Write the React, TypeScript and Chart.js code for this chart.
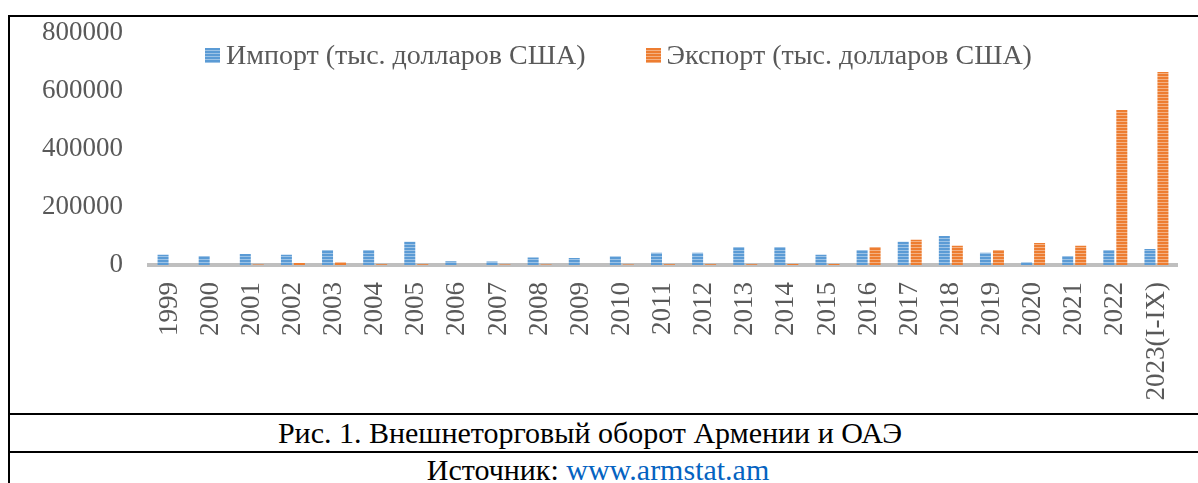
import React, { useEffect, useRef } from 'react';
import { Chart, registerables } from 'chart.js';

Chart.register(...registerables);

const categories = [
  '1999', '2000', '2001', '2002', '2003', '2004', '2005', '2006', '2007', '2008',
  '2009', '2010', '2011', '2012', '2013', '2014', '2015', '2016', '2017', '2018',
  '2019', '2020', '2021', '2022', '2023(I-IX)',
];
const importValues = [
  35000, 31000, 38000, 35000, 52000, 52000, 80000, 13000, 12000, 26000,
  24000, 30000, 42000, 42000, 62000, 62000, 35000, 52000, 80000, 100000,
  42000, 10000, 31000, 52000, 55000,
];
const exportValues = [
  0, 0, 1500, 7000, 10000, 3000, 3000, 0, 1500, 1500,
  0, 1500, 3000, 3000, 3000, 3500, 3500, 62000, 87000, 66000,
  52000, 76000, 66000, 533000, 664000,
];
const seriesLabels = ['Импорт (тыс. долларов США)', 'Экспорт (тыс. долларов США)'];
const yMin = 0;
const yMax = 800000;
const yStep = 200000;
const caption = 'Рис. 1. Внешнеторговый оборот Армении и ОАЭ';
const sourceLabel = 'Источник: ';
const sourceLink = 'www.armstat.am';

const FONT = '"Liberation Serif", "Times New Roman", serif';
const TEXT_GRAY = '#595959';
const importColors = ['#5B9BD5', '#9DC3E6'];
const exportColors = ['#ED7D31', '#F4B183'];

function makePattern(ctx: CanvasRenderingContext2D, dark: string, light: string) {
  const c = document.createElement('canvas');
  c.width = 4;
  c.height = 3;
  const g = c.getContext('2d')!;
  g.fillStyle = dark;
  g.fillRect(0, 0, 4, 2);
  g.fillStyle = light;
  g.fillRect(0, 2, 4, 1);
  return ctx.createPattern(c, 'repeat')!;
}

function swatch(colors: string[]) {
  return {
    display: 'inline-block',
    width: 15,
    height: 15,
    marginRight: 6,
    background: `repeating-linear-gradient(to bottom, ${colors[0]} 0px, ${colors[0]} 2px, ${colors[1]} 2px, ${colors[1]} 3px)`,
  } as React.CSSProperties;
}

export default function App() {
  const canvasRef = useRef<HTMLCanvasElement | null>(null);

  useEffect(() => {
    const canvas = canvasRef.current!;
    const ctx = canvas.getContext('2d')!;
    const chart = new Chart(ctx, {
      type: 'bar',
      data: {
        labels: categories,
        datasets: [
          {
            label: seriesLabels[0],
            data: importValues,
            backgroundColor: makePattern(ctx, importColors[0], importColors[1]),
            categoryPercentage: 0.632,
            barPercentage: 0.846,
          },
          {
            label: seriesLabels[1],
            data: exportValues,
            backgroundColor: makePattern(ctx, exportColors[0], exportColors[1]),
            categoryPercentage: 0.632,
            barPercentage: 0.846,
          },
        ],
      },
      options: {
        animation: false,
        responsive: false,
        maintainAspectRatio: false,
        layout: { padding: { left: 30, right: 11, top: 14.5, bottom: 12.5 } },
        plugins: { legend: { display: false }, tooltip: { enabled: false } },
        scales: {
          x: {
            grid: { display: false, drawTicks: true, tickLength: 17 },
            border: { display: true, color: '#BFBFBF', width: 4 },
            ticks: {
              autoSkip: false,
              minRotation: 90,
              maxRotation: 90,
              padding: 0,
              color: TEXT_GRAY,
              font: { family: FONT, size: 27, lineHeight: 1 },
            },
          },
          y: {
            min: yMin,
            max: yMax,
            grid: { display: false, drawTicks: true, tickLength: 24 },
            border: { display: false },
            ticks: {
              stepSize: yStep,
              padding: 2,
              color: TEXT_GRAY,
              font: { family: FONT, size: 27, lineHeight: 1 },
              callback: (v: any) => String(v),
            },
          },
        },
      },
    });
    return () => chart.destroy();
  }, []);

  return (
    <div style={{ position: 'fixed', left: 0, top: 0, width: 1198, height: 483, overflow: 'hidden', background: '#fff' }}>
      <div
        style={{
          position: 'absolute', left: 8, top: 15, width: 1200, height: 500,
          borderLeft: '2px solid #000', borderTop: '2px solid #000',
        }}
      >
        <div style={{ position: 'absolute', left: 0, top: 0, width: 1178, height: 396 }}>
          <canvas ref={canvasRef} width={1178} height={396} style={{ display: 'block', width: 1178, height: 396 }} />
          <div
            style={{
              position: 'absolute', left: 195, top: 22, display: 'flex', alignItems: 'center',
              fontFamily: FONT, fontSize: 28, color: TEXT_GRAY, whiteSpace: 'nowrap', lineHeight: '32px',
            }}
          >
            <span style={{ display: 'flex', alignItems: 'center', marginRight: 60 }}>
              <span style={swatch(importColors)} />
              {seriesLabels[0]}
            </span>
            <span style={{ display: 'flex', alignItems: 'center' }}>
              <span style={swatch(exportColors)} />
              {seriesLabels[1]}
            </span>
          </div>
        </div>
        <div style={{ position: 'absolute', left: 0, top: 396, width: 1200, height: 2, background: '#000' }} />
        <div
          style={{
            position: 'absolute', left: 0, top: 398, width: 1160, height: 36, lineHeight: '36px',
            textAlign: 'center', fontFamily: FONT, fontSize: 30, color: '#000', whiteSpace: 'nowrap',
          }}
        >
          {caption}
        </div>
        <div style={{ position: 'absolute', left: 0, top: 434, width: 1200, height: 2, background: '#000' }} />
        <div
          style={{
            position: 'absolute', left: 0, top: 436, width: 1176, height: 34, lineHeight: '34px',
            textAlign: 'center', fontFamily: FONT, fontSize: 30, color: '#000', whiteSpace: 'nowrap',
          }}
        >
          {sourceLabel}
          <span style={{ color: '#0563C1' }}>{sourceLink}</span>
        </div>
      </div>
    </div>
  );
}
